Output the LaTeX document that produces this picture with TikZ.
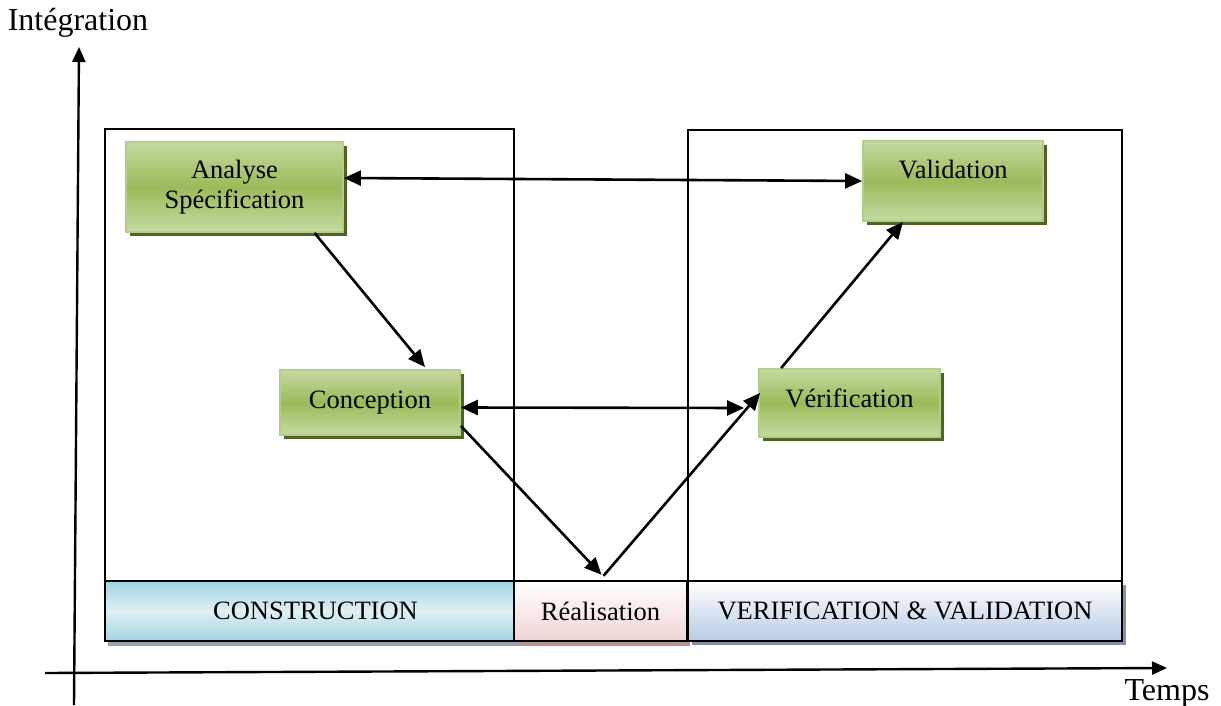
\documentclass[tikz,border=0pt]{standalone}
\usepackage{fontspec}
\setmainfont{Liberation Serif}
\usetikzlibrary{arrows.meta,shadows}

\definecolor{gmid}{HTML}{9BBB59}
\definecolor{glight}{HTML}{C6D9A2}
\definecolor{gedge}{HTML}{B3CE85}
\definecolor{gshade}{HTML}{4F6228}
\definecolor{cyandark}{HTML}{A0D3E0}
\definecolor{cyanlight}{HTML}{E0F0F5}
\definecolor{cyanshade}{HTML}{8FA7AF}
\definecolor{pinkfill}{HTML}{F0D5D4}
\definecolor{pinkshade}{HTML}{B99594}
\definecolor{bluefill}{HTML}{B8CCE4}
\definecolor{blueshade}{HTML}{8390A8}

\newcommand\figfont{\fontsize{26.5}{30}\selectfont}
\newcommand\axfont{\fontsize{32}{36}\selectfont}

\tikzset{
  frame/.style={draw=black, line width=1.3pt, inner sep=0pt},
  band/.style={draw=black, line width=2.4pt, inner sep=0pt, minimum height=60pt, font=\figfont},
  gbox/.style={draw=gedge, line width=1.8pt, inner sep=0pt, align=center, font=\figfont,
    top color=glight, bottom color=glight, middle color=gmid,
    drop shadow={shadow xshift=4pt, shadow yshift=-4pt, fill=gshade, opacity=1}},
  tip/.tip={Triangle[length=17pt,width=15pt]},
  conn/.style={line width=2.6pt, -tip},
  twoway/.style={line width=2.6pt, tip-tip},
  axis/.style={line width=2.4pt, -{Triangle[length=15pt,width=13pt]}},
  axlabel/.style={font=\axfont, inner sep=0pt, anchor=base}
}

\begin{document}
\begin{tikzpicture}[x=1pt,y=-1pt]
\useasboundingbox (0,0) rectangle (1221,706);

% time and integration axes
\coordinate (yb) at (74,705);
\coordinate (yt) at (79,47);
\coordinate (xl) at (45,673);
\coordinate (xr) at (1167,668);
\draw[axis] (yb) -- (yt);
\draw[axis] (xl) -- (xr);
\node[axlabel] (ylab) at (78,31) {Intégration};
\node[axlabel] (xlab) at (1167,700) {Temps};

% phase frames
\node[frame, minimum width=409pt, minimum height=452pt] (fl) at (309.5,355) {};
\node[frame, minimum width=434pt, minimum height=451pt] (fr) at (905,355.5) {};

% phase bands
\node[band, minimum width=409pt, shading angle=80, top color=cyandark, bottom color=cyandark, middle color=cyanlight,
  drop shadow={shadow xshift=3pt, shadow yshift=-5pt, fill=cyanshade, opacity=1}]
  (cons) at (309.5,611) {\hspace*{12pt}CONSTRUCTION};
\node[band, minimum width=173pt, shading angle=135, top color=white, bottom color=pinkfill,
  drop shadow={shadow xshift=3pt, shadow yshift=-5pt, fill=pinkshade, opacity=1}]
  (rea) at (600.5,611) {Réalisation};
\node[band, minimum width=434pt, top color=white, bottom color=bluefill,
  drop shadow={shadow xshift=4pt, shadow yshift=-4pt, fill=blueshade, opacity=1}]
  (vv) at (905,611) {VERIFICATION \& VALIDATION};

% activities
\node[gbox, minimum width=217pt, minimum height=90pt] (ana) at (234.5,187) {Analyse\\Spécification};
\node[gbox, minimum width=180pt, minimum height=65pt] (con) at (370,402.5) {Conception};
\node[gbox, minimum width=181pt, minimum height=68pt,
  label={[font=\figfont, yshift=5pt]center:Vérification}] (ver) at (849.5,403) {};
\node[gbox, minimum width=180pt, minimum height=80pt,
  label={[font=\figfont, yshift=11pt]center:Validation}] (val) at (953,181) {};

% flows
\draw[twoway] ([yshift=9pt]ana.east) -- (val.west);
\draw[conn] ([xshift=80pt]ana.south) -- ([xshift=55pt,yshift=2pt]con.north);
\draw[twoway] ([yshift=-5pt]con.east) -- ([xshift=-14pt,yshift=-5pt]ver.west);
\draw[conn] ([yshift=10pt]con.south east) -- ([xshift=1pt,yshift=5pt]rea.north);
\draw[conn] ([xshift=3pt,yshift=4pt]rea.north) -- ([xshift=2pt,yshift=10pt]ver.west);
\draw[conn] ([xshift=23pt]ver.north west) -- ([xshift=-50pt]val.south);
\end{tikzpicture}
\end{document}
